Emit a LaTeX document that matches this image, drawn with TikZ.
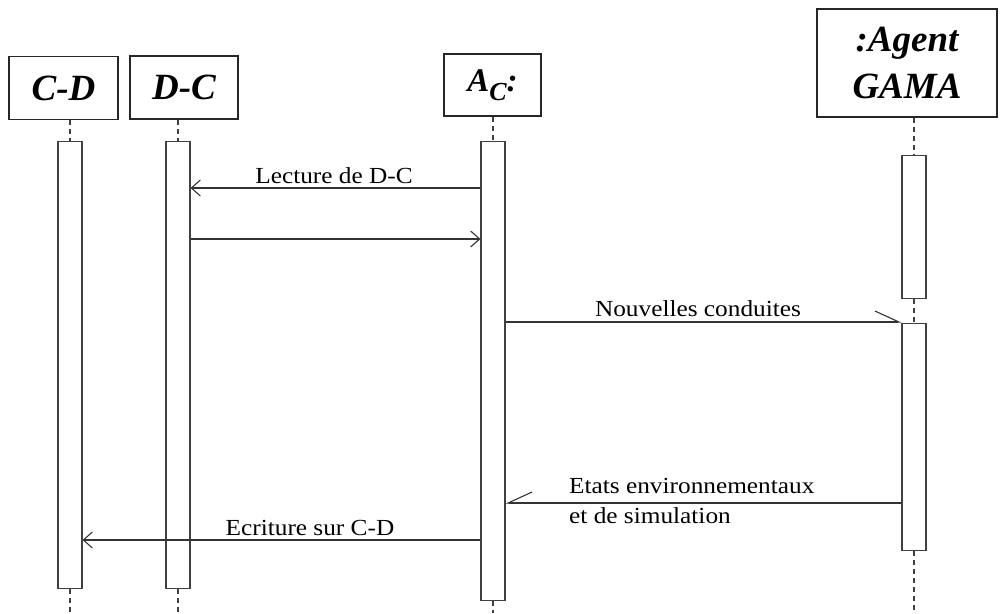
\documentclass[tikz,border=0pt]{standalone}
\usepackage{fontspec}
\setmainfont{Liberation Serif}
\newfontfamily\lblfont[FakeStretch=1.1]{Liberation Serif}
\usetikzlibrary{arrows.meta}
\begin{document}
\begin{tikzpicture}[x=1pt,y=-1pt,
  hdr/.style={draw=black!85,line width=1.4pt,inner sep=0pt,font=\fontsize{37}{47}\selectfont\bfseries\itshape,align=center},
  act/.style={draw=black!75,line width=1.1pt,fill=white,minimum width=24pt,inner sep=0pt,anchor=north},
  life/.style={draw=black!75,line width=1.2pt,dash pattern=on 5pt off 4pt},
  msg/.style={draw=black!80,line width=1.1pt,-{Straight Barb[length=9pt,width=16pt,line width=1.1pt]}},
  halfmsg/.style={draw=black!80,line width=1.1pt,-{Straight Barb[harpoon,length=24pt,width=22pt,line width=1.1pt]}},
  halfmsgs/.style={draw=black!80,line width=1.1pt,-{Straight Barb[harpoon,swap,length=24pt,width=22pt,line width=1.1pt]}},
  lbl/.style={font=\lblfont\fontsize{23}{30}\selectfont,inner sep=0pt,anchor=base}
]
\useasboundingbox (0,0) rectangle (1000,613);
% headers
\node[hdr,minimum width=109pt,minimum height=63pt] (cd) at (63.5,88) {C-D};
\node[hdr,minimum width=108pt,minimum height=63pt] (dc) at (184,87.5) {D-C};
\node[hdr,minimum width=97pt,minimum height=62pt] (ac) at (492.5,85) {\fontsize{33}{33}\selectfont A\raisebox{-9pt}{\fontsize{26}{26}\selectfont C}:};
\node[hdr,minimum width=180pt,minimum height=108pt] (ga) at (907,63) {:Agent\\GAMA};
% activation boxes
\node[act,minimum height=447pt] (cdact) at (70,141) {};
\node[act,minimum height=447pt] (dcact) at (178,141) {};
\node[act,minimum height=459pt] (acact) at (493,141) {};
\node[act,minimum height=143pt] (gaact1) at (914,155) {};
\node[act,minimum height=227pt] (gaact2) at (914,323) {};
% lifelines
\coordinate (cdend) at (70,613);
\coordinate (dcend) at (178,613);
\coordinate (acend) at (493,613);
\coordinate (gaend) at (914,613);
\draw[life] (cd.south -| cdact.north) -- (cdact.north);
\draw[life] (cdact.south) -- (cdend);
\draw[life] (dc.south -| dcact.north) -- (dcact.north);
\draw[life] (dcact.south) -- (dcend);
\draw[life] (ac.south -| acact.north) -- (acact.north);
\draw[life] (acact.south) -- (acend);
\draw[life] (ga.south -| gaact1.north) -- (gaact1.north);
\draw[life] (gaact1.south) -- (gaact2.north);
\draw[life] (gaact2.south) -- (gaend);
% messages
\draw[msg] (acact.west |- 0,188) -- (dcact.east |- 0,188);
\node[lbl] (l1) at (334,183) {Lecture de D-C};
\draw[msg] (dcact.east |- 0,239) -- (acact.west |- 0,239);
\draw[halfmsg] (acact.east |- 0,322) -- (gaact2.west |- 0,322);
\node[lbl] (l2) at (698,316) {Nouvelles conduites};
\draw[halfmsgs] (gaact2.west |- 0,503) -- (acact.east |- 0,503);
\node[lbl,anchor=base west,align=left] (l3) at (569,523) {Etats environnementaux\\et de simulation};
\draw[msg] (acact.west |- 0,540) -- (cdact.east |- 0,540);
\node[lbl] (l4) at (310,535) {Ecriture sur C-D};
\end{tikzpicture}
\end{document}
